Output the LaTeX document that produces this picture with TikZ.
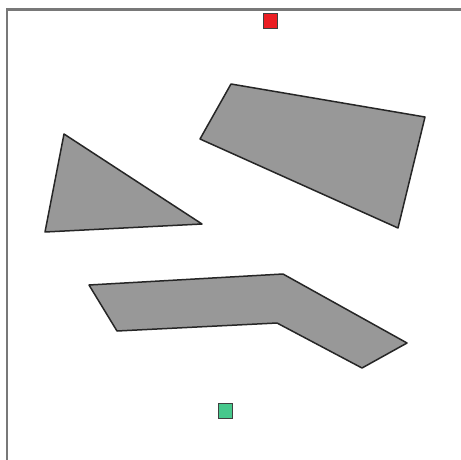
\documentclass[tikz,border=0pt]{standalone}
\usepackage{tikz}
\usetikzlibrary{positioning}
\definecolor{wallgray}{RGB}{120,120,120}
\definecolor{obstgray}{RGB}{152,152,152}
\definecolor{startred}{RGB}{235,30,35}
\definecolor{goalgreen}{RGB}{70,200,140}
\tikzset{
  wall/.style={draw=wallgray, line width=2.4pt},
  obstacle/.style={draw=black!85, line width=1.5pt, fill=obstgray, line join=round},
  marker/.style={draw=black!75, line width=1pt, minimum width=14pt, minimum height=15pt, inner sep=0pt}
}

\begin{document}
\begin{tikzpicture}[x=1pt, y=-1pt]
  \useasboundingbox[fill=white] (0,0) rectangle (461,460);
  % walls
  \draw[wall] (461,9.5) -- (7,9.5) -- (7,460);
  % obstacles
  \draw[obstacle] (231,84) -- (425,117) -- (398,228) -- (200,139) -- cycle;
  \draw[obstacle] (64,134) -- (202,224) -- (45,232) -- cycle;
  \draw[obstacle] (89,285) -- (283,274) -- (407,343) -- (362,368) -- (277,323) -- (117,331) -- cycle;
  % start and goal
  \node[marker, fill=startred] (start) at (270.5,21) {};
  \node[marker, fill=goalgreen] (goal) at (225,411) {};
\end{tikzpicture}
\end{document}
